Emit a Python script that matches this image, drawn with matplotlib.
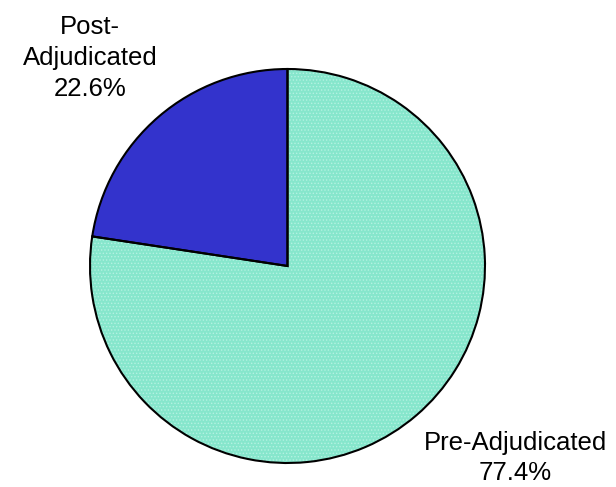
import matplotlib.pyplot as plt

labels = ['Pre-Adjudicated', 'Post-Adjudicated']
values = [77.4, 22.6]
colors = ['#86E6CC', '#3333CC']

plt.rcParams['font.family'] = ['Liberation Sans', 'DejaVu Sans']
plt.rcParams['hatch.linewidth'] = 0.6

fig = plt.figure(figsize=(6.16, 4.87), dpi=100)
ax = fig.add_axes([90 / 616, 24 / 487, 395 / 616, 394 / 487])

# pre-adjudicated runs clockwise from 12 o'clock, post fills the rest
wedges, _ = ax.pie(values, colors=colors, startangle=90, counterclock=False,
                   radius=1, wedgeprops=dict(edgecolor='none', linewidth=0))

# faint dotted texture over the teal slice
tex, _ = ax.pie(values, colors=['none', 'none'], startangle=90, counterclock=False,
                radius=1, wedgeprops=dict(edgecolor='#B4F2E2', linewidth=0))
tex[0].set_hatch('.....')
tex[1].set_visible(False)
wedges[0].set_zorder(1)
tex[0].set_zorder(2)
wedges[1].set_zorder(3)

# black outline drawn on top of the texture
outline, _ = ax.pie(values, startangle=90, counterclock=False, radius=1,
                    wedgeprops=dict(edgecolor='black', linewidth=1.5, fill=False))
for w in outline:
    w.set_zorder(4)

ax.set_xlim(-1.0, 1.0)
ax.set_ylim(-1.0, 1.0)
ax.set_aspect('auto')
ax.axis('off')

ax.text(-1.0, 1.055, 'Post-\nAdjudicated\n%.1f%%' % values[1], ha='center', va='center',
        fontsize=18.5, linespacing=1.36, clip_on=False)
ax.text(1.155, -0.975, '%s\n%.1f%%' % (labels[0], values[0]), ha='center', va='center',
        fontsize=18.5, linespacing=1.36, clip_on=False)

fig.savefig('out.png', dpi=100)
